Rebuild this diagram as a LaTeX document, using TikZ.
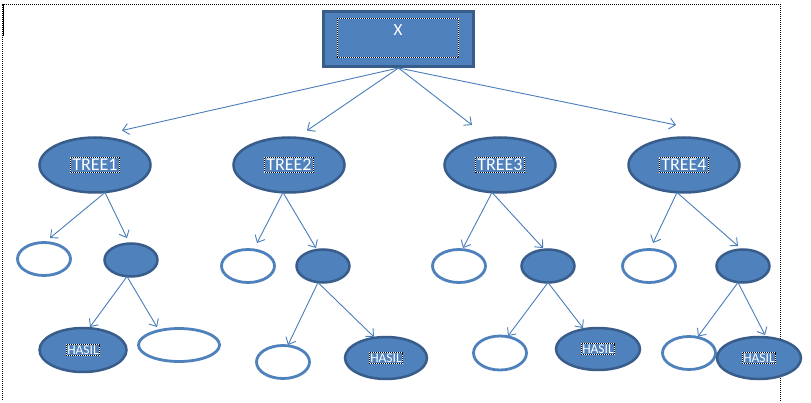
\documentclass[tikz,border=0pt]{standalone}
\usepackage{fontspec}
\setmainfont{Carlito}
\usetikzlibrary{shapes.geometric,arrows.meta,calc}
\definecolor{fillb}{HTML}{4F81BD}
\definecolor{darkb}{HTML}{385D8A}
\definecolor{lineb}{HTML}{4A7EBB}
\tikzset{
  filled/.style={ellipse, draw=darkb, fill=fillb, line width=2.5pt, inner sep=0pt, outer sep=0pt},
  emptyell/.style={ellipse, draw=fillb, fill=white, line width=2.8pt, inner sep=0pt, outer sep=0pt},
  arr/.style={draw=lineb, line width=0.9pt, -{Straight Barb[length=6pt,width=11pt]}},
  dotbox/.style={preaction={draw=white, solid, line width=1pt}, draw=black, line width=1pt, dash pattern=on 1pt off 1pt},
  lbl/.style={dotbox, text=white, inner sep=1.5pt},
  treefont/.style={font=\fontsize{18}{18}\selectfont},
  hasfont/.style={font=\fontsize{13.5}{13.5}\selectfont},
  frame/.style={draw=black, line width=0.8pt, dash pattern=on 1pt off 1pt}
}
\begin{document}
\begin{tikzpicture}[x=1pt,y=1pt]
\useasboundingbox[fill=white] (0,0) rectangle (811,402);
% frame
\coordinate (f1) at (2,2);
\coordinate (f2) at (2,398);
\coordinate (f3) at (780,398);
\coordinate (f4) at (780,0);
\draw[frame] (f1) -- (f2) -- (f3) -- (f4);
\coordinate (m1) at (3,398);
\coordinate (m2) at (3,366);
\draw[black, line width=1pt] (m1) -- (m2);

% top box
\node[draw=darkb, fill=fillb, line width=3pt, minimum width=150pt, minimum height=55pt, inner sep=0pt, outer sep=1.5pt] (X) at (398.5,363) {};
\node[dotbox, minimum width=121pt, minimum height=39pt, inner sep=0pt] (Xin) at (397.5,363.5) {};
\node[text=white, font=\fontsize{17}{17}\selectfont, inner sep=0pt] (Xt) at (398,372) {X};

% trees
\node[filled, minimum width=111pt, minimum height=55pt] (t1) at (95,237) {};
\node[filled, minimum width=111pt, minimum height=55pt] (t2) at (289,237) {};
\node[filled, minimum width=111pt, minimum height=55pt] (t3) at (500,237) {};
\node[filled, minimum width=111pt, minimum height=55pt] (t4) at (684,237) {};
\node[lbl, treefont] (t1l) at (t1) {TREE1};
\node[lbl, treefont] (t2l) at (t2) {TREE2};
\node[lbl, treefont] (t3l) at (t3) {TREE3};
\node[lbl, treefont] (t4l) at (t4) {TREE4};

% level 2
\node[emptyell, minimum width=53pt, minimum height=33pt] (l1e) at (44,143) {};
\node[filled, minimum width=53pt, minimum height=33pt] (l1f) at (131,142) {};
\node[emptyell, minimum width=53pt, minimum height=33pt] (l2e) at (248,136) {};
\node[filled, minimum width=53pt, minimum height=33pt] (l2f) at (323,136) {};
\node[emptyell, minimum width=53pt, minimum height=33pt] (l3e) at (459,136) {};
\node[filled, minimum width=53pt, minimum height=33pt] (l3f) at (548,136) {};
\node[emptyell, minimum width=53pt, minimum height=33pt] (l4e) at (649,136) {};
\node[filled, minimum width=53pt, minimum height=33pt] (l4f) at (743,136) {};

% level 3
\node[filled, minimum width=87pt, minimum height=44pt] (h1) at (83,52) {};
\node[emptyell, minimum width=81pt, minimum height=33pt] (e1) at (179,57) {};
\node[emptyell, minimum width=53pt, minimum height=33pt] (e2) at (283,40) {};
\node[filled, minimum width=82pt, minimum height=42pt] (h2) at (386,44) {};
\node[emptyell, minimum width=53pt, minimum height=34pt] (e3) at (500,49) {};
\node[filled, minimum width=84pt, minimum height=42pt] (h3) at (598,53) {};
\node[emptyell, minimum width=53pt, minimum height=33pt] (e4) at (689,49) {};
\node[filled, minimum width=84pt, minimum height=42pt] (h4) at (759,44) {};
\node[lbl, hasfont, inner sep=1pt] (h1l) at (h1) {HASIL};
\node[lbl, hasfont, inner sep=1pt] (h2l) at (h2) {HASIL};
\node[lbl, hasfont, inner sep=1pt] (h3l) at (h3) {HASIL};
\node[lbl, hasfont, inner sep=1pt] (h4l) at (h4) {HASIL};

% arrows from X
\draw[arr] (X.south) -- ($(t1.north)+(27,7)$);
\draw[arr] (X.south) -- ($(t2.north)+(18,7)$);
\draw[arr] (X.south) -- ($(t3.north)+(-28,12.5)$);
\draw[arr] (X.south) -- ($(t4.north)+(-8,12.5)$);

% tree 1
\draw[arr] ($(t1.south)+(10,0)$) -- ($(l1e.north)+(6,4.5)$);
\draw[arr] ($(t1.south)+(10,0)$) -- ($(l1f.north)+(-4,5.5)$);
\draw[arr] ($(l1f.south)+(-4,0)$) -- ($(h1.north)+(7,1)$);
\draw[arr] ($(l1f.south)+(-4,0)$) -- ($(e1.north)+(-22,1.5)$);

% tree 2
\draw[arr] ($(t2.south)+(-6,0)$) -- ($(l2e.north)+(9,6.5)$);
\draw[arr] ($(t2.south)+(-6,0)$) -- ($(l2f.north)+(-7,1.5)$);
\draw[arr] ($(l2f.south)+(-5,0)$) -- ($(e2.north)+(5,0.5)$);
\draw[arr] ($(l2f.south)+(-5,0)$) -- ($(h2.north)+(-12,0)$);

% tree 3
\draw[arr] ($(t3.south)+(-8,0)$) -- ($(l3e.north)+(4,1.5)$);
\draw[arr] ($(t3.south)+(-8,0)$) -- ($(l3f.north)+(-5,1.5)$);
\draw[arr] (l3f.south) -- ($(e3.north)+(8,0)$);
\draw[arr] (l3f.south) -- ($(h3.north)+(-15,0)$);

% tree 4
\draw[arr] ($(t4.south)+(-7,0)$) -- ($(l4e.north)+(4,6.5)$);
\draw[arr] ($(t4.south)+(-7,0)$) -- ($(l4f.north)+(-5,3.5)$);
\draw[arr] ($(l4f.south)+(-5,0)$) -- ($(e4.north)+(9,0)$);
\draw[arr] ($(l4f.south)+(-5,0)$) -- ($(h4.north)+(6,2)$);
\end{tikzpicture}
\end{document}
